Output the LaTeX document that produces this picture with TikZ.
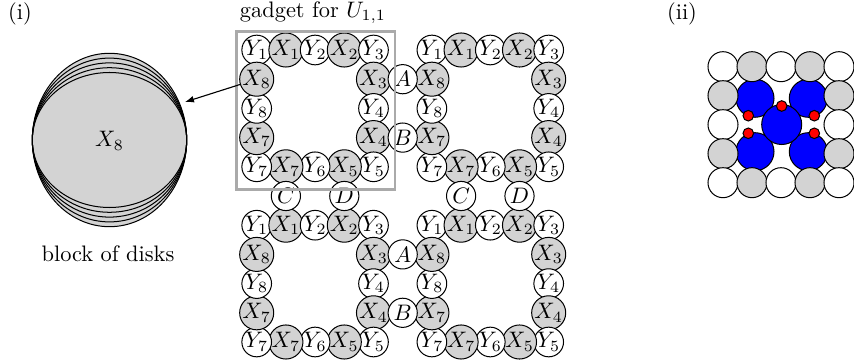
\documentclass[tikz,border=0pt]{standalone}
\usetikzlibrary{arrows.meta}
\definecolor{diskgray}{RGB}{211,211,211}
\definecolor{boxgray}{RGB}{170,170,170}
\begin{document}
\begin{tikzpicture}[x=0.4464pt,y=-0.4464pt,
  cell/.style={circle,draw=black,line width=0.45pt,minimum size=13.03pt,inner sep=0pt},
  diskX/.style={cell,fill=diskgray},
  diskY/.style={cell,fill=white},
  blueD/.style={circle,draw=black,line width=0.45pt,fill=blue,inner sep=0pt},
  redD/.style={circle,draw=black,line width=0.45pt,fill=red,inner sep=0pt,minimum size=4.73pt},
  lab/.style={inner sep=0pt}]
\useasboundingbox (0,0) rectangle (854,360);

% panel labels
\node[lab] (ti) at (20,14) {(i)};
\node[lab] (tii) at (682,14) {(ii)};

% block of disks
\fill[diskgray] (109.5,140) ellipse [x radius=77.2, y radius=86.7];
\foreach \ry in {86.7,81.9,77.1,72.3,67.5}
  \draw[line width=0.45pt] (109.5,140) ellipse [x radius=77.2, y radius=\ry];
\node[lab] (blk) at (109.5,141) {$X_8$};
\node[lab] (blkcap) at (108,254) {block of disks};

% gadgets
\foreach \g/\gc/\gr in {a/0/0, b/6/0, c/0/6, d/6/6} {
  \foreach \c/\r/\s/\k in {0/0/Y/1, 1/0/X/1, 2/0/Y/2, 3/0/X/2, 4/0/Y/3,
                           4/1/X/3, 4/2/Y/4, 4/3/X/4,
                           4/4/Y/5, 3/4/X/5, 2/4/Y/6, 1/4/X/7, 0/4/Y/7,
                           0/3/X/7, 0/2/Y/8, 0/1/X/8} {
    \node[disk\s] (\g-\c-\r) at ({256.7+29.2*(\gc+\c)},{50+29.2*(\gr+\r)}) {$\s_{\k}$};
  }
}
% connector disks
\node[diskY] (tA) at ({256.7+29.2*5},{50+29.2*1}) {$A$};
\node[diskY] (tB) at ({256.7+29.2*5},{50+29.2*3}) {$B$};
\node[diskY] (bA) at ({256.7+29.2*5},{50+29.2*7}) {$A$};
\node[diskY] (bB) at ({256.7+29.2*5},{50+29.2*9}) {$B$};
\node[diskY] (lC) at ({256.7+29.2*1},{50+29.2*5}) {$C$};
\node[diskY] (lD) at ({256.7+29.2*3},{50+29.2*5}) {$D$};
\node[diskY] (rC) at ({256.7+29.2*7},{50+29.2*5}) {$C$};
\node[diskY] (rD) at ({256.7+29.2*9},{50+29.2*5}) {$D$};

% gadget frame
\draw[boxgray, line width=1.2pt] (236.7,31.5) rectangle (395,189.5);
\node[lab] (gtitle) at (313,12.5) {gadget for $U_{1,1}$};

% arrow
\coordinate (tip) at (185,102);
\draw[-{Latex[length=4pt,width=3pt]}, line width=0.5pt] (a-0-1) -- (tip);

% panel (ii)
\foreach \bx/\by/\n in {755/98.3/1, 808.3/98.3/2, 755/151.7/3, 808.3/151.7/4}
  \node[blueD, minimum size=16.96pt] (b\n) at (\bx,\by) {};
\node[blueD, minimum size=17.86pt] (b0) at (781.7,124.5) {};
\foreach \i/\j/\s in {0/0/Y,1/0/X,2/0/Y,3/0/X,4/0/Y, 0/1/X,4/1/X, 0/2/Y,4/2/Y,
                      0/3/X,4/3/X, 0/4/Y,1/4/X,2/4/Y,3/4/X,4/4/Y}
  \node[disk\s, minimum size=13.4pt] (p-\i-\j) at ({723+29*\i},{66.7+29*\j}) {};
\foreach \rx/\ry/\n in {781.7/106/1, 748.3/115.7/2, 814.3/115.7/3, 748.3/133.3/4, 814.3/133.3/5}
  \node[redD] (r\n) at (\rx,\ry) {};
\end{tikzpicture}
\end{document}
